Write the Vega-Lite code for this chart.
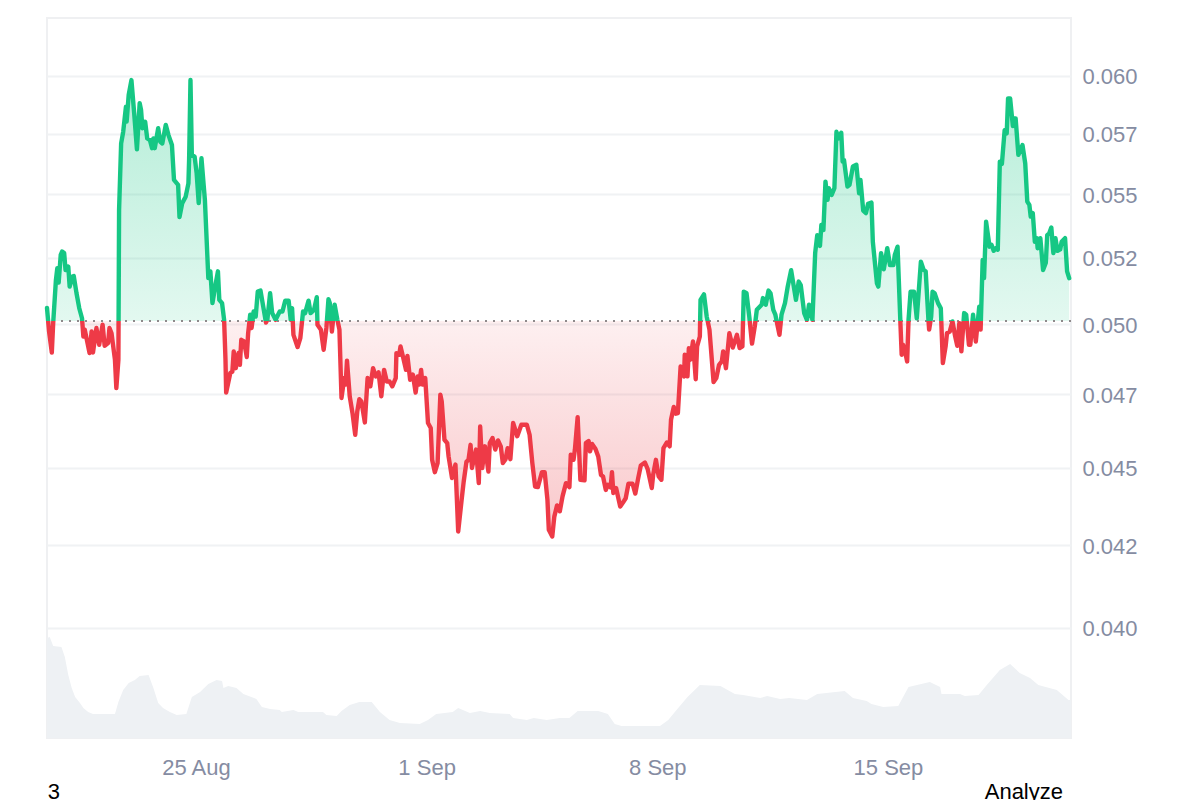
{
  "$schema": "https://vega.github.io/schema/vega-lite/v6.json",
  "description": "Price against its starting level with volume underneath, 20 Aug to 20 Sep.",
  "width": 1024,
  "height": 720,
  "autosize": "none",
  "padding": {"left": 47, "top": 18, "right": 129, "bottom": 62},
  "background": "#ffffff",
  "config": {
    "font": "Liberation Sans",
    "view": {"stroke": "#eff0f2", "strokeWidth": 2}
  },
  "datasets": {
    "price": [
      {"t":"2025-08-20T11:30","p":0.05060},{"t":"2025-08-20T13:00","p":0.04973},{"t":"2025-08-20T15:00","p":0.04897},{"t":"2025-08-20T16:00","p":0.05004},{"t":"2025-08-20T18:00","p":0.05165},{"t":"2025-08-20T19:00","p":0.05210},{"t":"2025-08-20T20:00","p":0.05155},{"t":"2025-08-20T21:30","p":0.05261},{"t":"2025-08-20T22:30","p":0.05274},
      {"t":"2025-08-21T00:00","p":0.05268},{"t":"2025-08-21T01:00","p":0.05203},{"t":"2025-08-21T03:00","p":0.05216},{"t":"2025-08-21T04:00","p":0.05140},{"t":"2025-08-21T06:00","p":0.05178},{"t":"2025-08-21T07:00","p":0.05180},{"t":"2025-08-21T09:00","p":0.05115},{"t":"2025-08-21T11:00","p":0.05059},{"t":"2025-08-21T13:00","p":0.05022},{"t":"2025-08-21T14:00","p":0.04955},{"t":"2025-08-21T15:00","p":0.04980},{"t":"2025-08-21T18:30","p":0.04895},{"t":"2025-08-21T20:00","p":0.04973},{"t":"2025-08-21T21:00","p":0.04897},{"t":"2025-08-21T23:30","p":0.04986},
      {"t":"2025-08-22T01:30","p":0.04925},{"t":"2025-08-22T04:00","p":0.04998},{"t":"2025-08-22T05:30","p":0.04921},{"t":"2025-08-22T08:00","p":0.04931},{"t":"2025-08-22T09:00","p":0.04986},{"t":"2025-08-22T10:30","p":0.04967},{"t":"2025-08-22T13:00","p":0.04871},{"t":"2025-08-22T14:00","p":0.04771},{"t":"2025-08-22T15:30","p":0.04871},{"t":"2025-08-22T16:00","p":0.05438},{"t":"2025-08-22T17:30","p":0.05710},{"t":"2025-08-22T19:00","p":0.05759},{"t":"2025-08-22T21:00","p":0.05866},{"t":"2025-08-22T21:30","p":0.05802},{"t":"2025-08-22T23:00","p":0.05917},
      {"t":"2025-08-23T01:00","p":0.05982},{"t":"2025-08-23T03:00","p":0.05838},{"t":"2025-08-23T05:00","p":0.05685},{"t":"2025-08-23T07:00","p":0.05881},{"t":"2025-08-23T08:00","p":0.05852},{"t":"2025-08-23T09:00","p":0.05774},{"t":"2025-08-23T11:00","p":0.05802},{"t":"2025-08-23T12:30","p":0.05731},{"t":"2025-08-23T14:30","p":0.05724},{"t":"2025-08-23T16:00","p":0.05690},{"t":"2025-08-23T17:00","p":0.05731},{"t":"2025-08-23T18:00","p":0.05690},{"t":"2025-08-23T20:30","p":0.05774},{"t":"2025-08-23T22:00","p":0.05717},{"t":"2025-08-23T23:30","p":0.05710},
      {"t":"2025-08-24T02:00","p":0.05788},{"t":"2025-08-24T04:00","p":0.05745},{"t":"2025-08-24T06:30","p":0.05703},{"t":"2025-08-24T08:00","p":0.05559},{"t":"2025-08-24T11:00","p":0.05539},{"t":"2025-08-24T12:00","p":0.05409},{"t":"2025-08-24T14:00","p":0.05465},{"t":"2025-08-24T16:30","p":0.05491},{"t":"2025-08-24T18:30","p":0.05545},{"t":"2025-08-24T19:00","p":0.05641},{"t":"2025-08-24T20:00","p":0.05982},{"t":"2025-08-24T21:00","p":0.05662},{"t":"2025-08-24T23:00","p":0.05655},
      {"t":"2025-08-25T00:30","p":0.05586},{"t":"2025-08-25T02:00","p":0.05465},{"t":"2025-08-25T04:00","p":0.05648},{"t":"2025-08-25T06:30","p":0.05478},{"t":"2025-08-25T09:00","p":0.05172},{"t":"2025-08-25T10:30","p":0.05198},{"t":"2025-08-25T12:00","p":0.05078},{"t":"2025-08-25T14:00","p":0.05140},{"t":"2025-08-25T16:00","p":0.05198},{"t":"2025-08-25T17:00","p":0.05090},{"t":"2025-08-25T19:00","p":0.05078},{"t":"2025-08-25T20:30","p":0.05016},{"t":"2025-08-25T21:30","p":0.04871},{"t":"2025-08-25T22:00","p":0.04755},
      {"t":"2025-08-26T01:00","p":0.04824},{"t":"2025-08-26T02:30","p":0.04829},{"t":"2025-08-26T03:30","p":0.04901},{"t":"2025-08-26T05:00","p":0.04841},{"t":"2025-08-26T07:00","p":0.04895},{"t":"2025-08-26T08:00","p":0.04853},{"t":"2025-08-26T09:00","p":0.04943},{"t":"2025-08-26T11:00","p":0.04937},{"t":"2025-08-26T13:00","p":0.04881},{"t":"2025-08-26T14:00","p":0.04967},{"t":"2025-08-26T15:30","p":0.05035},{"t":"2025-08-26T16:30","p":0.04986},{"t":"2025-08-26T18:00","p":0.05047},{"t":"2025-08-26T19:30","p":0.05028},{"t":"2025-08-26T21:00","p":0.05121},{"t":"2025-08-26T23:00","p":0.05125},
      {"t":"2025-08-27T01:00","p":0.05065},{"t":"2025-08-27T03:00","p":0.05006},{"t":"2025-08-27T04:00","p":0.05016},{"t":"2025-08-27T06:00","p":0.05115},{"t":"2025-08-27T07:30","p":0.05041},{"t":"2025-08-27T10:00","p":0.05016},{"t":"2025-08-27T13:00","p":0.05047},{"t":"2025-08-27T15:00","p":0.05047},{"t":"2025-08-27T17:00","p":0.05087},{"t":"2025-08-27T19:30","p":0.05087},{"t":"2025-08-27T21:00","p":0.05016},{"t":"2025-08-27T22:00","p":0.05059},{"t":"2025-08-27T23:00","p":0.04961},
      {"t":"2025-08-28T02:00","p":0.04917},{"t":"2025-08-28T04:00","p":0.04949},{"t":"2025-08-28T06:00","p":0.05047},{"t":"2025-08-28T07:30","p":0.05041},{"t":"2025-08-28T10:00","p":0.05087},{"t":"2025-08-28T11:30","p":0.05041},{"t":"2025-08-28T14:00","p":0.05053},{"t":"2025-08-28T16:00","p":0.05100},{"t":"2025-08-28T16:30","p":0.04998},{"t":"2025-08-28T19:00","p":0.04980},{"t":"2025-08-28T21:00","p":0.04907},{"t":"2025-08-28T23:00","p":0.04986},
      {"t":"2025-08-29T00:30","p":0.05093},{"t":"2025-08-29T01:30","p":0.05078},{"t":"2025-08-29T03:00","p":0.04973},{"t":"2025-08-29T05:00","p":0.05072},{"t":"2025-08-29T07:00","p":0.05016},{"t":"2025-08-29T08:30","p":0.04980},{"t":"2025-08-29T10:00","p":0.04736},{"t":"2025-08-29T12:00","p":0.04806},{"t":"2025-08-29T13:00","p":0.04783},{"t":"2025-08-29T14:00","p":0.04868},{"t":"2025-08-29T16:00","p":0.04742},{"t":"2025-08-29T18:00","p":0.04684},{"t":"2025-08-29T20:00","p":0.04610},{"t":"2025-08-29T21:30","p":0.04690},{"t":"2025-08-29T23:00","p":0.04732},
      {"t":"2025-08-30T00:30","p":0.04724},{"t":"2025-08-30T03:00","p":0.04652},{"t":"2025-08-30T05:00","p":0.04806},{"t":"2025-08-30T07:00","p":0.04777},{"t":"2025-08-30T09:00","p":0.04841},{"t":"2025-08-30T11:00","p":0.04812},{"t":"2025-08-30T13:00","p":0.04826},{"t":"2025-08-30T15:00","p":0.04742},{"t":"2025-08-30T17:00","p":0.04835},{"t":"2025-08-30T19:00","p":0.04794},{"t":"2025-08-30T21:00","p":0.04794},{"t":"2025-08-30T23:00","p":0.04777},
      {"t":"2025-08-31T01:30","p":0.04806},{"t":"2025-08-31T02:00","p":0.04895},{"t":"2025-08-31T04:00","p":0.04889},{"t":"2025-08-31T05:00","p":0.04919},{"t":"2025-08-31T07:00","p":0.04877},{"t":"2025-08-31T09:00","p":0.04835},{"t":"2025-08-31T10:00","p":0.04885},{"t":"2025-08-31T12:00","p":0.04800},{"t":"2025-08-31T14:00","p":0.04818},{"t":"2025-08-31T16:00","p":0.04755},{"t":"2025-08-31T17:30","p":0.04812},{"t":"2025-08-31T18:30","p":0.04783},{"t":"2025-08-31T20:00","p":0.04835},{"t":"2025-08-31T21:00","p":0.04783},{"t":"2025-08-31T23:00","p":0.04806},
      {"t":"2025-09-01T01:00","p":0.04650},{"t":"2025-09-01T03:00","p":0.04633},{"t":"2025-09-01T04:00","p":0.04526},{"t":"2025-09-01T06:00","p":0.04485},{"t":"2025-09-01T08:00","p":0.04515},{"t":"2025-09-01T10:00","p":0.04748},{"t":"2025-09-01T11:00","p":0.04724},{"t":"2025-09-01T13:00","p":0.04593},{"t":"2025-09-01T15:00","p":0.04582},{"t":"2025-09-01T16:00","p":0.04537},{"t":"2025-09-01T18:30","p":0.04466},{"t":"2025-09-01T21:00","p":0.04510},{"t":"2025-09-01T23:00","p":0.04294},
      {"t":"2025-09-02T01:30","p":0.04395},{"t":"2025-09-02T03:00","p":0.04454},{"t":"2025-09-02T05:00","p":0.04519},{"t":"2025-09-02T06:30","p":0.04526},{"t":"2025-09-02T08:00","p":0.04576},{"t":"2025-09-02T09:00","p":0.04499},{"t":"2025-09-02T12:00","p":0.04560},{"t":"2025-09-02T14:00","p":0.04449},{"t":"2025-09-02T15:00","p":0.04638},{"t":"2025-09-02T16:30","p":0.04499},{"t":"2025-09-02T18:30","p":0.04571},{"t":"2025-09-02T21:00","p":0.04487},{"t":"2025-09-02T22:00","p":0.04582},
      {"t":"2025-09-03T00:00","p":0.04599},{"t":"2025-09-03T02:00","p":0.04560},{"t":"2025-09-03T04:00","p":0.04591},{"t":"2025-09-03T06:00","p":0.04571},{"t":"2025-09-03T07:30","p":0.04515},{"t":"2025-09-03T09:30","p":0.04528},{"t":"2025-09-03T11:00","p":0.04565},{"t":"2025-09-03T13:00","p":0.04528},{"t":"2025-09-03T15:00","p":0.04650},{"t":"2025-09-03T18:00","p":0.04605},{"t":"2025-09-03T21:00","p":0.04644},
      {"t":"2025-09-04T01:00","p":0.04644},{"t":"2025-09-04T03:00","p":0.04610},{"t":"2025-09-04T05:00","p":0.04515},{"t":"2025-09-04T07:00","p":0.04438},{"t":"2025-09-04T09:00","p":0.04436},{"t":"2025-09-04T12:00","p":0.04485},{"t":"2025-09-04T14:00","p":0.04485},{"t":"2025-09-04T16:00","p":0.04395},{"t":"2025-09-04T17:00","p":0.04299},{"t":"2025-09-04T19:30","p":0.04278},{"t":"2025-09-04T21:00","p":0.04341},{"t":"2025-09-04T23:00","p":0.04377},
      {"t":"2025-09-05T01:00","p":0.04358},{"t":"2025-09-05T03:00","p":0.04406},{"t":"2025-09-05T05:30","p":0.04449},{"t":"2025-09-05T08:00","p":0.04436},{"t":"2025-09-05T09:00","p":0.04543},{"t":"2025-09-05T11:00","p":0.04526},{"t":"2025-09-05T12:00","p":0.04560},{"t":"2025-09-05T14:00","p":0.04670},{"t":"2025-09-05T16:00","p":0.04460},{"t":"2025-09-05T19:00","p":0.04458},{"t":"2025-09-05T20:00","p":0.04582},{"t":"2025-09-05T22:00","p":0.04589},{"t":"2025-09-05T23:00","p":0.04554},
      {"t":"2025-09-06T00:30","p":0.04579},{"t":"2025-09-06T03:00","p":0.04562},{"t":"2025-09-06T05:00","p":0.04537},{"t":"2025-09-06T07:00","p":0.04476},{"t":"2025-09-06T08:30","p":0.04471},{"t":"2025-09-06T10:30","p":0.04427},{"t":"2025-09-06T12:00","p":0.04444},{"t":"2025-09-06T14:00","p":0.04435},{"t":"2025-09-06T15:00","p":0.04485},{"t":"2025-09-06T16:00","p":0.04417},{"t":"2025-09-06T18:00","p":0.04433},{"t":"2025-09-06T21:00","p":0.04373},{"t":"2025-09-06T23:00","p":0.04386},
      {"t":"2025-09-07T01:00","p":0.04400},{"t":"2025-09-07T03:00","p":0.04447},{"t":"2025-09-07T06:00","p":0.04447},{"t":"2025-09-07T08:00","p":0.04415},{"t":"2025-09-07T10:00","p":0.04463},{"t":"2025-09-07T12:00","p":0.04507},{"t":"2025-09-07T15:00","p":0.04517},{"t":"2025-09-07T17:00","p":0.04495},{"t":"2025-09-07T20:00","p":0.04433},{"t":"2025-09-07T21:00","p":0.04476},{"t":"2025-09-07T23:00","p":0.04526},
      {"t":"2025-09-08T01:00","p":0.04471},{"t":"2025-09-08T03:00","p":0.04460},{"t":"2025-09-08T04:30","p":0.04565},{"t":"2025-09-08T07:00","p":0.04584},{"t":"2025-09-08T09:00","p":0.04571},{"t":"2025-09-08T10:00","p":0.04661},{"t":"2025-09-08T12:00","p":0.04705},{"t":"2025-09-08T13:30","p":0.04682},{"t":"2025-09-08T15:00","p":0.04684},{"t":"2025-09-08T17:00","p":0.04847},{"t":"2025-09-08T19:30","p":0.04812},{"t":"2025-09-08T20:00","p":0.04889},{"t":"2025-09-08T22:00","p":0.04812},{"t":"2025-09-08T23:00","p":0.04913},
      {"t":"2025-09-09T00:00","p":0.04871},{"t":"2025-09-09T02:00","p":0.04937},{"t":"2025-09-09T04:00","p":0.04802},{"t":"2025-09-09T05:00","p":0.04919},{"t":"2025-09-09T07:00","p":0.04955},{"t":"2025-09-09T07:30","p":0.05090},{"t":"2025-09-09T10:00","p":0.05111},{"t":"2025-09-09T12:00","p":0.05028},{"t":"2025-09-09T14:00","p":0.04980},{"t":"2025-09-09T17:00","p":0.04792},{"t":"2025-09-09T19:00","p":0.04806},{"t":"2025-09-09T21:00","p":0.04853},{"t":"2025-09-09T23:00","p":0.04865},
      {"t":"2025-09-10T00:00","p":0.04901},{"t":"2025-09-10T02:00","p":0.04841},{"t":"2025-09-10T04:30","p":0.04967},{"t":"2025-09-10T07:00","p":0.04915},{"t":"2025-09-10T10:00","p":0.04961},{"t":"2025-09-10T12:00","p":0.04913},{"t":"2025-09-10T14:00","p":0.04919},{"t":"2025-09-10T15:00","p":0.05121},{"t":"2025-09-10T17:00","p":0.05115},{"t":"2025-09-10T19:00","p":0.05028},{"t":"2025-09-10T21:00","p":0.04929},{"t":"2025-09-10T23:00","p":0.04992},
      {"t":"2025-09-11T00:30","p":0.05053},{"t":"2025-09-11T04:00","p":0.05072},{"t":"2025-09-11T05:00","p":0.05097},{"t":"2025-09-11T07:00","p":0.05072},{"t":"2025-09-11T09:00","p":0.05125},{"t":"2025-09-11T10:30","p":0.05115},{"t":"2025-09-11T12:30","p":0.05053},{"t":"2025-09-11T14:00","p":0.05035},{"t":"2025-09-11T17:00","p":0.04961},{"t":"2025-09-11T18:30","p":0.05035},{"t":"2025-09-11T21:00","p":0.05078},{"t":"2025-09-11T23:00","p":0.05140},
      {"t":"2025-09-12T01:30","p":0.05202},{"t":"2025-09-12T05:00","p":0.05090},{"t":"2025-09-12T07:00","p":0.05159},{"t":"2025-09-12T08:30","p":0.05146},{"t":"2025-09-12T11:00","p":0.05041},{"t":"2025-09-12T13:00","p":0.05016},{"t":"2025-09-12T14:30","p":0.05072},{"t":"2025-09-12T17:00","p":0.05016},{"t":"2025-09-12T19:00","p":0.05268},{"t":"2025-09-12T20:30","p":0.05338},{"t":"2025-09-12T22:30","p":0.05296},{"t":"2025-09-12T23:30","p":0.05378},
      {"t":"2025-09-13T01:00","p":0.05358},{"t":"2025-09-13T02:30","p":0.05552},{"t":"2025-09-13T04:00","p":0.05478},{"t":"2025-09-13T05:00","p":0.05525},{"t":"2025-09-13T07:00","p":0.05498},{"t":"2025-09-13T09:00","p":0.05525},{"t":"2025-09-13T10:30","p":0.05759},{"t":"2025-09-13T12:00","p":0.05731},{"t":"2025-09-13T14:00","p":0.05755},{"t":"2025-09-13T15:00","p":0.05634},{"t":"2025-09-13T16:00","p":0.05641},{"t":"2025-09-13T18:30","p":0.05532},{"t":"2025-09-13T20:00","p":0.05539},{"t":"2025-09-13T22:30","p":0.05614},
      {"t":"2025-09-14T01:00","p":0.05621},{"t":"2025-09-14T03:00","p":0.05505},{"t":"2025-09-14T04:00","p":0.05559},{"t":"2025-09-14T06:00","p":0.05435},{"t":"2025-09-14T08:00","p":0.05425},{"t":"2025-09-14T09:30","p":0.05462},{"t":"2025-09-14T12:00","p":0.05467},{"t":"2025-09-14T13:00","p":0.05312},{"t":"2025-09-14T16:00","p":0.05152},{"t":"2025-09-14T17:00","p":0.05140},{"t":"2025-09-14T19:00","p":0.05268},{"t":"2025-09-14T21:00","p":0.05206},{"t":"2025-09-14T23:30","p":0.05287},
      {"t":"2025-09-15T01:30","p":0.05222},{"t":"2025-09-15T04:00","p":0.05222},{"t":"2025-09-15T05:00","p":0.05261},{"t":"2025-09-15T07:00","p":0.05293},{"t":"2025-09-15T09:00","p":0.05016},{"t":"2025-09-15T10:00","p":0.04889},{"t":"2025-09-15T11:00","p":0.04925},{"t":"2025-09-15T12:00","p":0.04913},{"t":"2025-09-15T14:00","p":0.04865},{"t":"2025-09-15T15:00","p":0.05016},{"t":"2025-09-15T16:30","p":0.05121},{"t":"2025-09-15T19:00","p":0.05121},{"t":"2025-09-15T21:00","p":0.05022},{"t":"2025-09-15T22:30","p":0.05127},
      {"t":"2025-09-16T00:00","p":0.05235},{"t":"2025-09-16T02:00","p":0.05203},{"t":"2025-09-16T03:30","p":0.05198},{"t":"2025-09-16T05:30","p":0.05016},{"t":"2025-09-16T06:00","p":0.04980},{"t":"2025-09-16T07:30","p":0.05028},{"t":"2025-09-16T08:30","p":0.05121},{"t":"2025-09-16T10:00","p":0.05115},{"t":"2025-09-16T12:30","p":0.05078},{"t":"2025-09-16T14:30","p":0.05059},{"t":"2025-09-16T16:00","p":0.04859},{"t":"2025-09-16T18:00","p":0.04919},{"t":"2025-09-16T19:00","p":0.04967},{"t":"2025-09-16T21:00","p":0.04973},{"t":"2025-09-16T23:00","p":0.05010},
      {"t":"2025-09-17T01:00","p":0.04955},{"t":"2025-09-17T02:30","p":0.04921},{"t":"2025-09-17T04:00","p":0.05004},{"t":"2025-09-17T05:30","p":0.04901},{"t":"2025-09-17T07:30","p":0.05041},{"t":"2025-09-17T09:00","p":0.05035},{"t":"2025-09-17T11:00","p":0.04925},{"t":"2025-09-17T12:00","p":0.04925},{"t":"2025-09-17T14:00","p":0.05035},{"t":"2025-09-17T16:00","p":0.04937},{"t":"2025-09-17T18:30","p":0.05065},{"t":"2025-09-17T19:30","p":0.04980},{"t":"2025-09-17T21:00","p":0.05242},{"t":"2025-09-17T22:00","p":0.05172},{"t":"2025-09-17T23:30","p":0.05391},
      {"t":"2025-09-18T02:00","p":0.05293},{"t":"2025-09-18T03:30","p":0.05300},{"t":"2025-09-18T05:00","p":0.05277},{"t":"2025-09-18T06:30","p":0.05287},{"t":"2025-09-18T08:00","p":0.05281},{"t":"2025-09-18T09:30","p":0.05634},{"t":"2025-09-18T11:00","p":0.05625},{"t":"2025-09-18T13:00","p":0.05766},{"t":"2025-09-18T14:30","p":0.05752},{"t":"2025-09-18T15:30","p":0.05902},{"t":"2025-09-18T17:00","p":0.05902},{"t":"2025-09-18T19:00","p":0.05783},{"t":"2025-09-18T20:00","p":0.05816},{"t":"2025-09-18T21:00","p":0.05816},{"t":"2025-09-18T23:00","p":0.05662},
      {"t":"2025-09-19T02:00","p":0.05703},{"t":"2025-09-19T04:00","p":0.05627},{"t":"2025-09-19T05:30","p":0.05471},{"t":"2025-09-19T07:00","p":0.05458},{"t":"2025-09-19T08:00","p":0.05411},{"t":"2025-09-19T09:30","p":0.05425},{"t":"2025-09-19T11:00","p":0.05312},{"t":"2025-09-19T12:30","p":0.05326},{"t":"2025-09-19T13:00","p":0.05287},{"t":"2025-09-19T15:00","p":0.05326},{"t":"2025-09-19T17:00","p":0.05203},{"t":"2025-09-19T19:00","p":0.05231},{"t":"2025-09-19T20:00","p":0.05338},{"t":"2025-09-19T21:30","p":0.05345},{"t":"2025-09-19T23:00","p":0.05368},
      {"t":"2025-09-20T00:30","p":0.05268},{"t":"2025-09-20T02:00","p":0.05326},{"t":"2025-09-20T03:30","p":0.05277},{"t":"2025-09-20T05:30","p":0.05283},{"t":"2025-09-20T06:30","p":0.05312},{"t":"2025-09-20T09:00","p":0.05326},{"t":"2025-09-20T10:30","p":0.05198},{"t":"2025-09-20T12:00","p":0.05172}
    ],
    "volume": [
      {"t":"2025-08-20T11:30","v":100},{"t":"2025-08-20T13:30","v":101},{"t":"2025-08-20T16:00","v":92},{"t":"2025-08-20T22:00","v":91},{"t":"2025-08-21T00:30","v":81},{"t":"2025-08-21T03:00","v":63},{"t":"2025-08-21T05:30","v":50},{"t":"2025-08-21T08:00","v":41},{"t":"2025-08-21T11:30","v":35},{"t":"2025-08-21T14:00","v":30},{"t":"2025-08-21T17:30","v":26},{"t":"2025-08-21T21:00","v":24},{"t":"2025-08-22T13:00","v":24},{"t":"2025-08-22T15:30","v":36},{"t":"2025-08-22T19:00","v":48},{"t":"2025-08-22T23:00","v":55},{"t":"2025-08-23T03:30","v":58},{"t":"2025-08-23T07:00","v":62},{"t":"2025-08-23T13:30","v":63},{"t":"2025-08-23T17:00","v":50},{"t":"2025-08-23T20:30","v":35},{"t":"2025-08-24T00:00","v":30},{"t":"2025-08-24T05:00","v":26},{"t":"2025-08-24T10:00","v":23},{"t":"2025-08-24T17:00","v":24},{"t":"2025-08-24T21:00","v":41},{"t":"2025-08-25T03:00","v":46},{"t":"2025-08-25T09:00","v":54},{"t":"2025-08-25T15:00","v":58},{"t":"2025-08-25T19:00","v":57},{"t":"2025-08-25T20:00","v":50},{"t":"2025-08-25T23:30","v":52},{"t":"2025-08-26T05:30","v":50},{"t":"2025-08-26T10:30","v":44},{"t":"2025-08-26T20:00","v":39},{"t":"2025-08-27T00:00","v":31},{"t":"2025-08-27T06:00","v":29},{"t":"2025-08-27T13:00","v":28},{"t":"2025-08-27T14:30","v":26},{"t":"2025-08-27T23:00","v":28},{"t":"2025-08-28T02:30","v":26},{"t":"2025-08-28T20:30","v":26},{"t":"2025-08-28T23:00","v":23},{"t":"2025-08-29T06:30","v":22},{"t":"2025-08-29T10:00","v":27},{"t":"2025-08-29T16:00","v":33},{"t":"2025-08-29T23:00","v":36},{"t":"2025-08-30T08:00","v":36},{"t":"2025-08-30T14:00","v":26},{"t":"2025-08-30T21:00","v":18},{"t":"2025-08-31T04:30","v":15},{"t":"2025-08-31T19:00","v":14},{"t":"2025-09-01T01:00","v":18},{"t":"2025-09-01T07:00","v":24},{"t":"2025-09-01T19:00","v":26},{"t":"2025-09-01T23:00","v":30},{"t":"2025-09-02T07:30","v":25},{"t":"2025-09-02T15:00","v":27},{"t":"2025-09-02T22:00","v":25},{"t":"2025-09-03T12:30","v":24},{"t":"2025-09-03T15:00","v":20},{"t":"2025-09-04T01:00","v":18},{"t":"2025-09-04T06:00","v":20},{"t":"2025-09-04T15:30","v":18},{"t":"2025-09-05T01:00","v":20},{"t":"2025-09-05T08:00","v":20},{"t":"2025-09-05T14:00","v":27},{"t":"2025-09-06T05:00","v":27},{"t":"2025-09-06T12:00","v":24},{"t":"2025-09-06T17:00","v":14},{"t":"2025-09-06T22:00","v":12},{"t":"2025-09-08T02:00","v":12},{"t":"2025-09-08T08:00","v":18},{"t":"2025-09-08T14:00","v":28},{"t":"2025-09-08T22:00","v":41},{"t":"2025-09-09T07:00","v":53},{"t":"2025-09-09T22:00","v":52},{"t":"2025-09-10T08:30","v":44},{"t":"2025-09-10T14:30","v":43},{"t":"2025-09-11T03:00","v":40},{"t":"2025-09-11T08:00","v":42},{"t":"2025-09-11T17:30","v":39},{"t":"2025-09-12T00:00","v":40},{"t":"2025-09-12T13:00","v":38},{"t":"2025-09-12T20:30","v":44},{"t":"2025-09-13T16:30","v":47},{"t":"2025-09-13T22:30","v":40},{"t":"2025-09-14T08:30","v":37},{"t":"2025-09-14T12:00","v":34},{"t":"2025-09-14T20:30","v":31},{"t":"2025-09-15T07:30","v":32},{"t":"2025-09-15T15:00","v":51},{"t":"2025-09-16T06:30","v":56},{"t":"2025-09-16T14:00","v":51},{"t":"2025-09-16T15:00","v":44},{"t":"2025-09-17T04:30","v":44},{"t":"2025-09-17T08:00","v":42},{"t":"2025-09-17T18:00","v":43},{"t":"2025-09-18T00:00","v":53},{"t":"2025-09-18T09:30","v":68},{"t":"2025-09-18T17:00","v":74},{"t":"2025-09-19T00:00","v":65},{"t":"2025-09-19T07:30","v":60},{"t":"2025-09-19T13:30","v":53},{"t":"2025-09-20T03:00","v":48},{"t":"2025-09-20T11:30","v":38},{"t":"2025-09-20T13:20","v":38}
    ],
    "notes": [
      {"t":"2025-08-20T16:30","y":0.03528,"label":"3"},
      {"t":"2025-09-19T03:00","y":0.03528,"label":"Analyze"}
    ]
  },
  "encoding": {
    "x": {
      "field": "t",
      "type": "temporal",
      "title": null,
      "scale": {"domain": ["2025-08-20T11:30", "2025-09-20T13:20"]},
      "axis": {
        "values": [
          {"year": 2025, "month": "aug", "date": 25},
          {"year": 2025, "month": "sep", "date": 1},
          {"year": 2025, "month": "sep", "date": 8},
          {"year": 2025, "month": "sep", "date": 15}
        ],
        "format": "%-d %b",
        "domain": false,
        "ticks": false,
        "grid": false,
        "labelFontSize": 22,
        "labelColor": "#858ca2",
        "labelPadding": 19,
        "labelFlush": false
      }
    }
  },
  "layer": [
    {
      "data": {"name": "volume"},
      "mark": {"type": "area", "color": "#eef1f4"},
      "encoding": {
        "y": {
          "field": "v",
          "type": "quantitative",
          "scale": {"domain": [0, 720]},
          "axis": null
        }
      }
    },
    {
      "layer": [
        {
          "data": {"name": "price"},
          "mark": {
            "type": "area",
            "color": {
              "gradient": "linear",
              "x1": 0, "y1": 0, "x2": 0, "y2": 1,
              "stops": [
                {"offset": 0, "color": "rgba(22,199,132,0.32)"},
                {"offset": 0.5277, "color": "rgba(22,199,132,0.12)"},
                {"offset": 0.5277, "color": "rgba(234,57,67,0.08)"},
                {"offset": 1, "color": "rgba(234,57,67,0.28)"}
              ]
            }
          },
          "encoding": {
            "y": {
              "field": "p",
              "type": "quantitative",
              "title": null,
              "scale": {"type": "log", "domain": [0.036895, 0.06261], "nice": false},
              "axis": {
                "orient": "right",
                "values": [0.04, 0.0425, 0.045, 0.0475, 0.05, 0.0525, 0.055, 0.0575, 0.06],
                "labelExpr": "format(floor(datum.value * 1000 + 0.001) / 1000, '.3f')",
                "domain": false,
                "ticks": false,
                "grid": true,
                "gridColor": "#f0f2f4",
                "gridWidth": 2,
                "labelFontSize": 22,
                "labelColor": "#858ca2",
                "labelPadding": 11,
                "labelOffset": 1
              }
            },
            "y2": {"datum": 0.05012}
          }
        },
        {
          "data": {"values": [{"baseline": 0.05012}]},
          "mark": {"type": "rule", "color": "#8f8a8c", "strokeWidth": 2, "strokeDash": [2, 6]},
          "encoding": {
            "x": null,
            "y": {"field": "baseline", "type": "quantitative"}
          }
        },
        {
          "data": {"name": "price"},
          "mark": {
            "type": "line",
            "strokeWidth": 4.4,
            "strokeJoin": "round",
            "strokeCap": "round",
            "color": {
              "gradient": "linear",
              "x1": 0, "y1": 0, "x2": 0, "y2": 1,
              "stops": [
                {"offset": 0, "color": "#16c784"},
                {"offset": 0.5277, "color": "#16c784"},
                {"offset": 0.5277, "color": "#ee3a47"},
                {"offset": 1, "color": "#ee3a47"}
              ]
            }
          },
          "encoding": {
            "y": {"field": "p", "type": "quantitative"}
          }
        },
        {
          "data": {"name": "notes"},
          "mark": {"type": "text", "fontSize": 22, "color": "#000000", "align": "center", "baseline": "alphabetic"},
          "encoding": {
            "y": {"field": "y", "type": "quantitative"},
            "text": {"field": "label"}
          }
        }
      ]
    }
  ],
  "resolve": {"scale": {"y": "independent"}}
}
